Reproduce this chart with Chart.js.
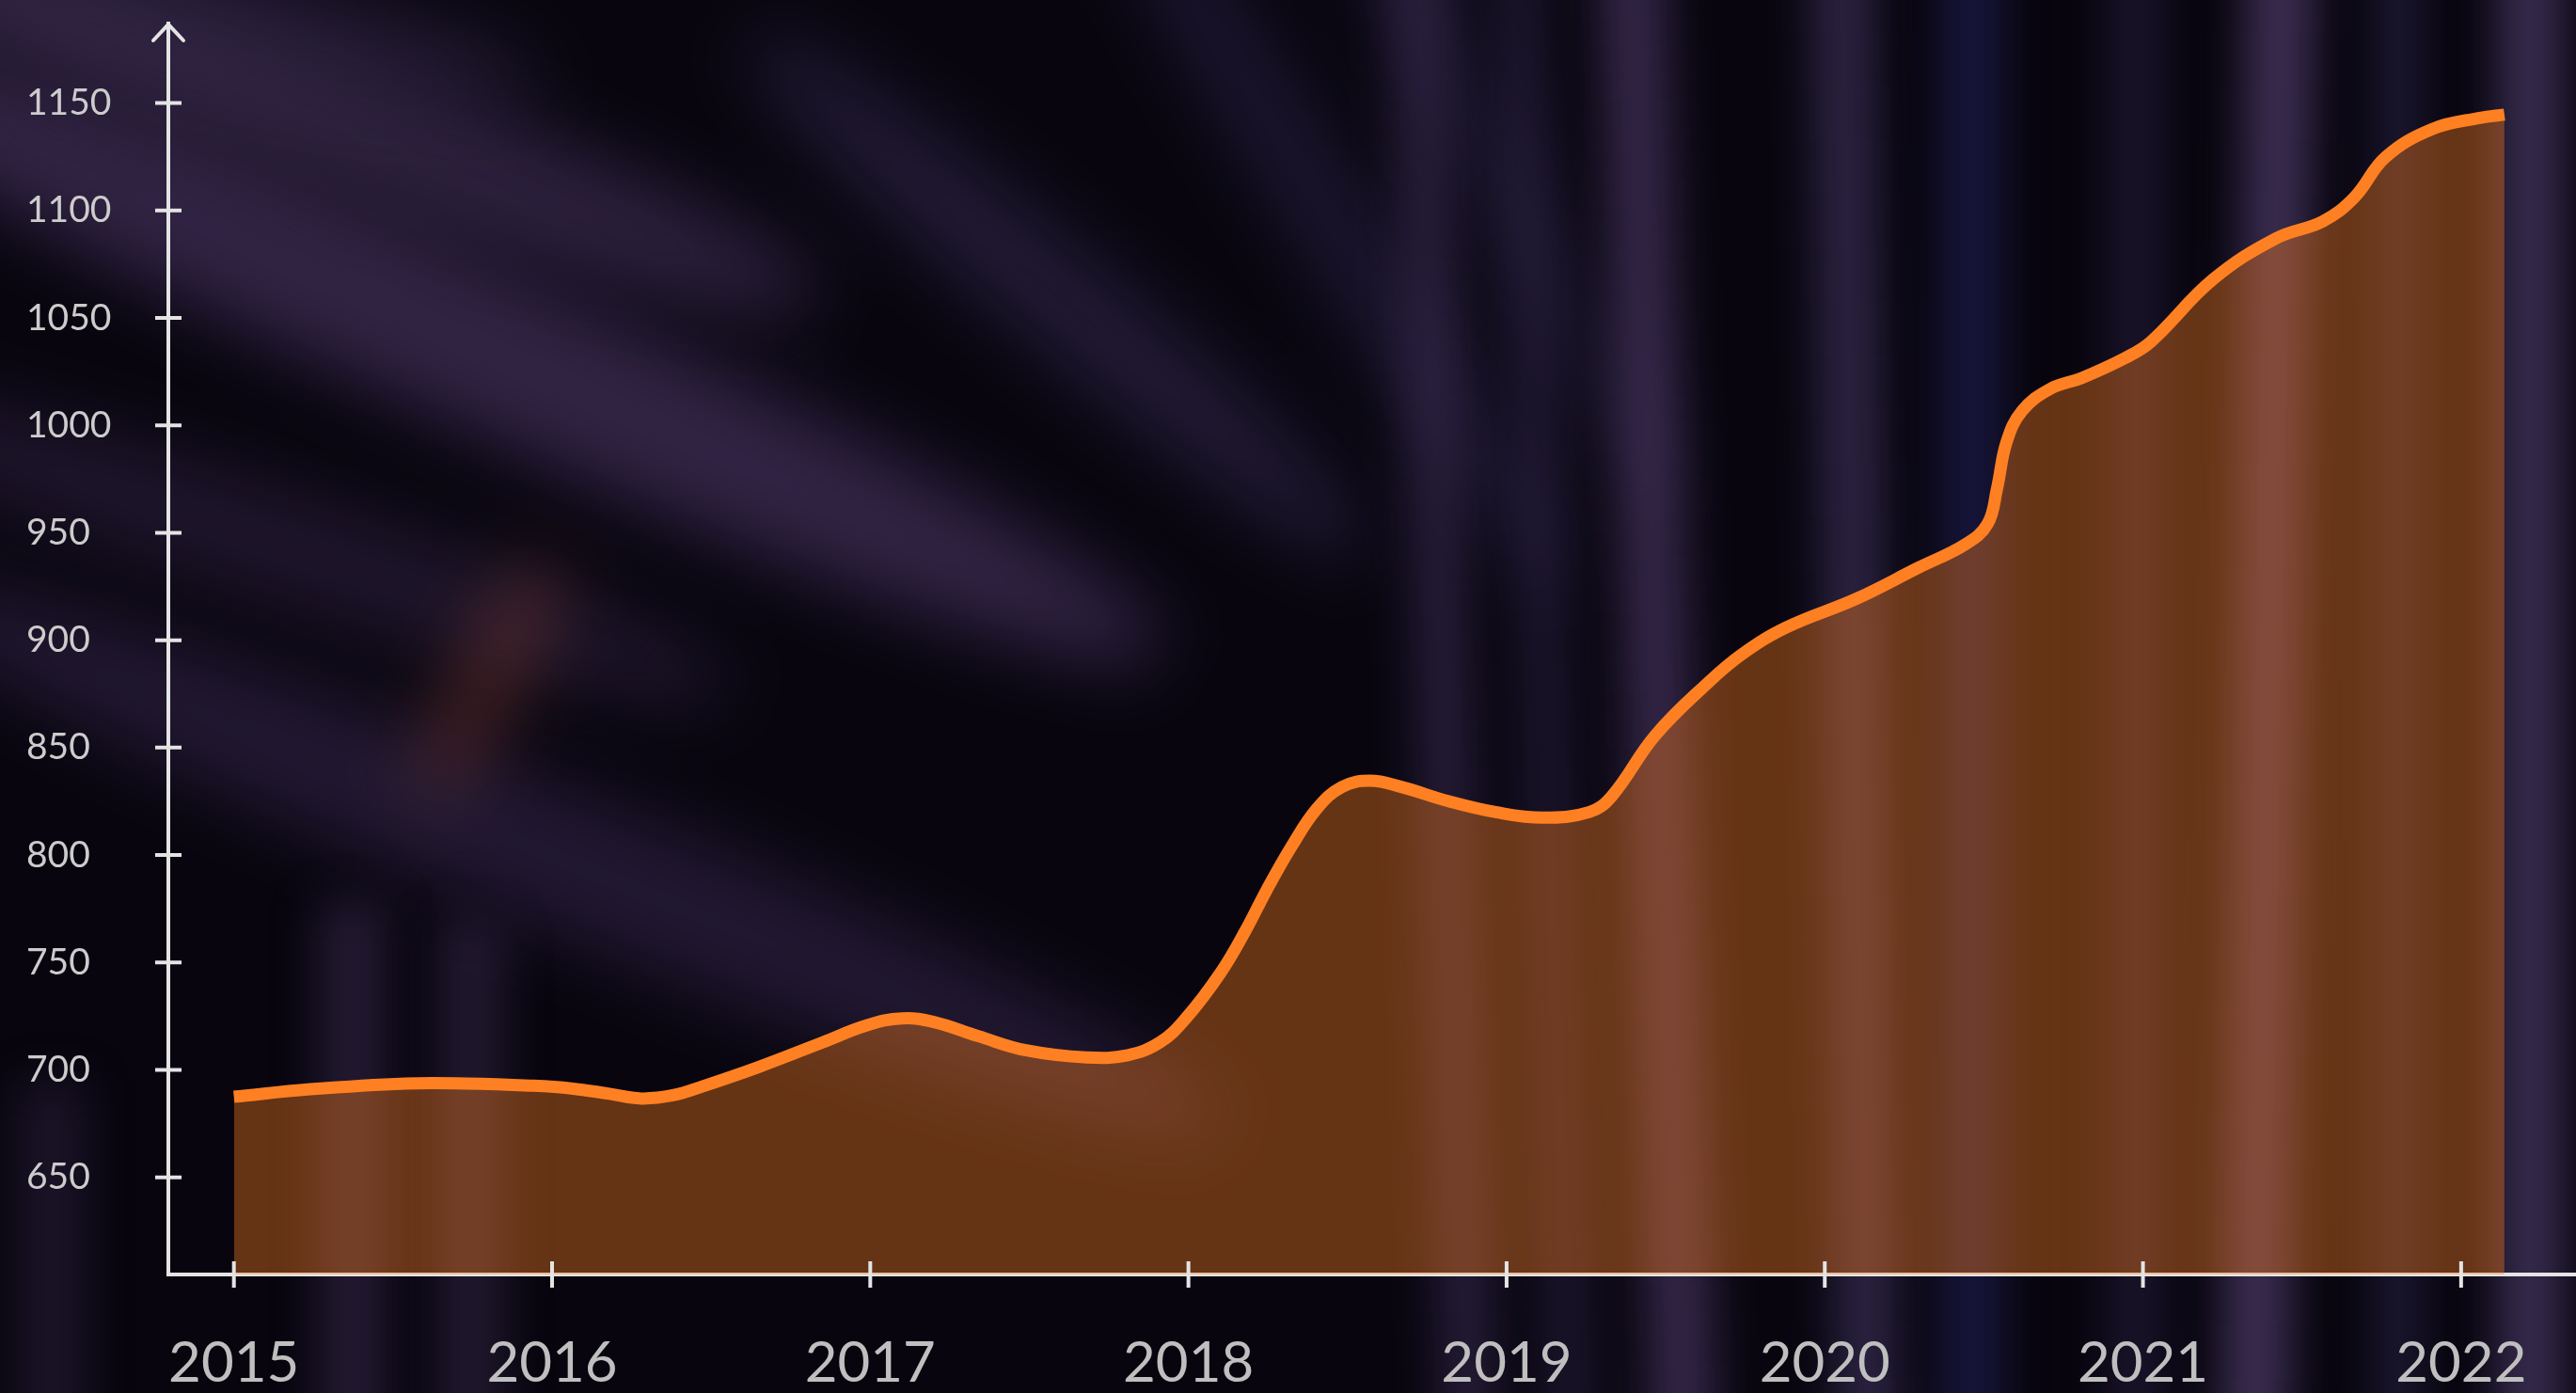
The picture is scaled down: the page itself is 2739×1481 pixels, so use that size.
<!DOCTYPE html>
<html>
<head>
<meta charset="utf-8">
<script src="https://cdn.jsdelivr.net/npm/chart.js@4.4.0/dist/chart.umd.min.js"></script>
<style>
html,body{margin:0;padding:0;background:#07050e;overflow:hidden;}
#wrap{position:relative;width:2739px;height:1481px;overflow:hidden;background:#08050f;}
.b{position:absolute;filter:blur(38px);border-radius:45%;}
.v{position:absolute;top:-100px;height:1700px;filter:blur(24px);}
canvas{position:absolute;left:0;top:0;}
</style>
</head>
<body>
<div id="wrap">
  <!-- diagonal light streaks, upper left -->
  <div class="b" style="left:-300px;top:280px;width:1600px;height:170px;background:rgba(72,54,98,0.62);transform:rotate(24deg);"></div>
  <div class="b" style="left:-200px;top:60px;width:1100px;height:140px;background:rgba(66,50,90,0.6);transform:rotate(20deg);"></div>
  <div class="b" style="left:-150px;top:840px;width:1500px;height:150px;background:rgba(58,42,82,0.5);transform:rotate(22deg);"></div>
  <div class="b" style="left:-200px;top:520px;width:1000px;height:120px;background:rgba(55,40,76,0.45);transform:rotate(18deg);"></div>
  <div class="b" style="left:700px;top:260px;width:850px;height:110px;background:rgba(58,46,88,0.5);transform:rotate(40deg);"></div>
  <div class="b" style="left:930px;top:170px;width:950px;height:90px;background:rgba(52,42,84,0.45);transform:rotate(58deg);"></div>
  <div class="b" style="left:1150px;top:110px;width:850px;height:80px;background:rgba(50,40,80,0.4);transform:rotate(64deg);"></div>
  <div class="b" style="left:380px;top:690px;width:280px;height:60px;background:rgba(125,58,48,0.55);transform:rotate(-62deg);"></div>
  <div class="b" style="left:-120px;top:-40px;width:700px;height:110px;background:rgba(58,44,80,0.45);transform:rotate(12deg);"></div>
  <!-- vertical streaks -->
  <div class="v" style="left:340px;top:960px;height:620px;width:70px;background:rgba(64,48,86,0.5);"></div>
  <div class="v" style="left:465px;top:980px;height:620px;width:70px;background:rgba(64,48,86,0.45);"></div>
  <div class="v" style="left:20px;top:1150px;height:400px;width:70px;background:rgba(55,42,78,0.4);"></div>
  <div class="v" style="left:1505px;width:60px;background:rgba(56,44,82,0.6);transform:rotate(-2deg);"></div>
  <div class="v" style="left:1618px;width:50px;background:rgba(50,40,78,0.5);transform:rotate(-2deg);"></div>
  <div class="v" style="left:1728px;width:70px;background:rgba(70,52,96,0.7);transform:rotate(-2deg);"></div>
  <div class="v" style="left:1940px;width:65px;background:rgba(64,52,96,0.65);transform:rotate(-1deg);"></div>
  <div class="v" style="left:2066px;width:60px;background:rgba(36,36,96,0.6);"></div>
  <div class="v" style="left:2246px;width:50px;background:rgba(50,40,80,0.5);"></div>
  <div class="v" style="left:2376px;width:70px;background:rgba(78,60,106,0.75);transform:rotate(1deg);"></div>
  <div class="v" style="left:2525px;width:50px;background:rgba(50,44,86,0.5);"></div>
  <div class="v" style="left:2655px;width:70px;background:rgba(72,58,100,0.75);"></div>
  <canvas id="c" width="2739" height="1481"></canvas>
</div>
<script>
// ---- data ----
const years = [2015.00, 2015.24, 2015.54, 2015.73, 2015.93, 2016.06, 2016.18, 2016.28, 2016.38, 2016.47, 2016.65,
  2016.85, 2016.99, 2017.10, 2017.20, 2017.34, 2017.49, 2017.68, 2017.81, 2017.91, 2017.99,
  2018.10, 2018.18, 2018.245, 2018.324, 2018.403, 2018.482, 2018.571, 2018.669, 2018.817, 2018.965,
  2019.113, 2019.26, 2019.33, 2019.467, 2019.635, 2019.74, 2019.88, 2020.098, 2020.295, 2020.443,
  2020.512, 2020.541, 2020.571, 2020.62, 2020.709, 2020.807, 2020.946, 2021.024, 2021.221, 2021.418,
  2021.566, 2021.664, 2021.763, 2021.911, 2022.059, 2022.136];
const values = [687.5, 691.0, 693.7, 693.7, 692.7, 691.4, 688.9, 686.7, 688.2, 692.2, 701.4,
  712.8, 720.8, 724.0, 722.3, 715.7, 709.1, 705.8, 706.9, 712.8, 723.7,
  745.0, 765.0, 783.5, 804.0, 821.5, 831.7, 834.6, 831.7, 825.1, 820.0,
  817.4, 820.0, 827.3, 855.7, 880.5, 893.5, 906.0, 919.2, 933.8, 944.7,
  954.2, 970.3, 992.1, 1006.7, 1017.0, 1022.0, 1031.5, 1038.8, 1068.0, 1087.0,
  1095.0, 1106.0, 1124.9, 1138.0, 1143.1, 1144.6];
const xTickYears = [2015, 2016, 2017, 2018, 2019, 2020, 2021, 2022];
const xTickLabels = ['2015', '2016', '2017', '2018', '2019', '2020', '2021', '2022'];
const yTickValues = [650, 700, 750, 800, 850, 900, 950, 1000, 1050, 1100, 1150];
const yTickLabels = ['650', '700', '750', '800', '850', '900', '950', '1000', '1050', '1100', '1150'];

const AXIS_COLOR = '#e4e4e4';

const axisDecor = {
  id: 'axisDecor',
  afterDatasetsDraw(chart) {
    const {ctx, chartArea, scales} = chart;
    const x0 = chartArea.left, y0 = chartArea.bottom;
    ctx.save();
    ctx.strokeStyle = AXIS_COLOR;
    ctx.lineWidth = 4;
    ctx.lineCap = 'butt';
    ctx.beginPath();
    yTickValues.forEach(v => {
      const y = scales.y.getPixelForValue(v);
      ctx.moveTo(x0 - 14, y); ctx.lineTo(x0 + 14, y);
    });
    xTickYears.forEach(v => {
      const x = scales.x.getPixelForValue(v);
      ctx.moveTo(x, y0 - 14); ctx.lineTo(x, y0 + 14);
    });
    ctx.stroke();
    // arrow head on y axis
    ctx.lineCap = 'round';
    ctx.lineJoin = 'miter';
    ctx.beginPath();
    ctx.moveTo(x0 - 16, chartArea.top + 18);
    ctx.lineTo(x0, chartArea.top + 1);
    ctx.lineTo(x0 + 16, chartArea.top + 18);
    ctx.stroke();
    ctx.restore();
  }
};

function noPad(s) { s.paddingTop = 0; s.paddingBottom = 0; s.paddingLeft = 0; s.paddingRight = 0; }

new Chart(document.getElementById('c'), {
  type: 'line',
  data: {
    datasets: [{
      data: years.map((x, i) => ({x: x, y: values[i]})),
      borderColor: '#ff8022',
      borderWidth: 13,
      borderCapStyle: 'butt',
      borderJoinStyle: 'round',
      backgroundColor: 'rgba(255,128,32,0.38)',
      fill: 'start',
      pointRadius: 0,
      tension: 0.4
    }]
  },
  options: {
    responsive: false,
    devicePixelRatio: 1,
    animation: false,
    layout: {padding: {left: 28, right: 0, top: 25, bottom: 0}},
    plugins: {legend: {display: false}, tooltip: {enabled: false}},
    scales: {
      x: {
        type: 'linear',
        min: 2014.794,
        max: 2022.361,
        afterBuildTicks: s => { s.ticks = xTickYears.map(v => ({value: v})); },
        afterFit: s => { s.height = 126; noPad(s); },
        grid: {display: true, drawOnChartArea: false, drawTicks: false},
        border: {display: true, color: AXIS_COLOR, width: 4},
        ticks: {
          autoSkip: false,
          maxRotation: 0,
          padding: 59,
          color: '#bfbfbf',
          font: {family: 'Lato', size: 60},
          callback: (v, i) => xTickLabels[i]
        }
      },
      y: {
        type: 'linear',
        min: 604.8,
        max: 1187,
        afterBuildTicks: s => { s.ticks = yTickValues.map(v => ({value: v})); },
        afterFit: s => { s.width = 151; noPad(s); },
        grid: {display: true, drawOnChartArea: false, drawTicks: false},
        border: {display: true, color: AXIS_COLOR, width: 4},
        ticks: {
          autoSkip: false,
          crossAlign: 'far',
          padding: 10,
          color: '#cccccc',
          font: {family: 'Lato', size: 39},
          callback: (v, i) => yTickLabels[i]
        }
      }
    }
  },
  plugins: [axisDecor]
});
</script>
</body>
</html>
